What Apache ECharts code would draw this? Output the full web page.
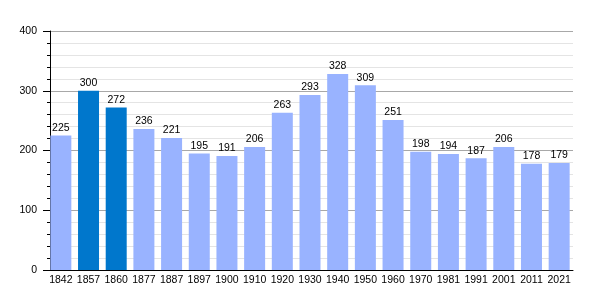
<!DOCTYPE html>
<html><head><meta charset="utf-8">
<script src="https://cdn.jsdelivr.net/npm/echarts@6/dist/echarts.min.js"></script>
<style>html,body{margin:0;padding:0;background:#fff}#c{width:600px;height:300px}</style>
</head><body><div id="c"></div>
<script>
const years = ['1842','1857','1860','1877','1887','1897','1900','1910','1920','1930','1940','1950','1960','1970','1981','1991','2001','2011','2021'];
const population = [225,300,272,236,221,195,191,206,263,293,328,309,251,198,194,187,206,178,179];
const highlighted = ['1857','1860'];
const yTicks = [0,100,200,300,400];

const chart = echarts.init(document.getElementById('c'));
chart.setOption({
  animation:false,
  grid:{left:47,right:27,top:31,bottom:30,containLabel:false},
  xAxis:{type:'category',data:years,
    axisLine:{lineStyle:{color:'#000',width:1}},
    axisTick:{show:false},
    axisLabel:{interval:0,color:'#000',fontSize:10.5,fontFamily:'Liberation Sans, Arial',margin:5}},
  yAxis:{type:'value',min:yTicks[0],max:yTicks[yTicks.length-1],interval:100,offset:-3,
    axisLine:{show:true,lineStyle:{color:'#000'}},
    axisTick:{show:true,length:7,lineStyle:{color:'#000'}},
    minorTick:{show:true,splitNumber:5,length:3,lineStyle:{color:'#000'}},
    splitLine:{lineStyle:{color:'#a8a8a8'}},
    minorSplitLine:{show:true,lineStyle:{color:'#e4e4e4'}},
    axisLabel:{color:'#000',fontSize:10.5,fontFamily:'Liberation Sans, Arial',margin:13}},
  series:[{type:'bar',barWidth:21,
    data:population.map((v,i)=>({value:v,itemStyle:{color:highlighted.includes(years[i])?'#0077cc':'#99b3ff'}})),
    label:{show:true,position:'top',distance:2,color:'#000',fontSize:10.5,fontFamily:'Liberation Sans, Arial'}}]
});
</script></body></html>
